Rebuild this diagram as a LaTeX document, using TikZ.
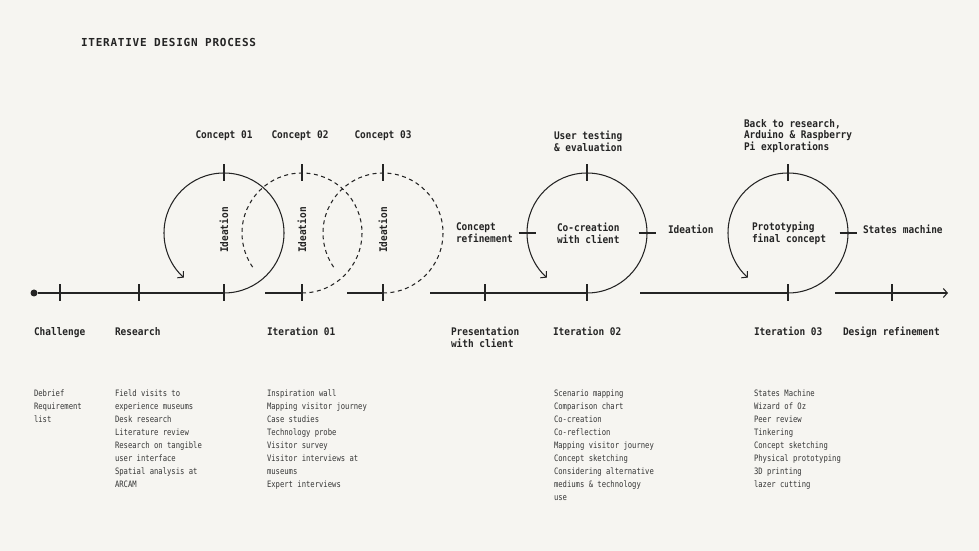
\documentclass[tikz,border=0pt]{standalone}
\usepackage{fontspec}
\usepackage{xcolor}
\usepackage{tikz}
\usetikzlibrary{arrows.meta}
\usetikzlibrary{positioning}
\definecolor{paper}{HTML}{F6F5F1}
\definecolor{ink}{HTML}{242424}
\definecolor{listink}{HTML}{363636}
\newfontfamily\headfont[FakeStretch=0.9]{DejaVu Sans Mono}
\newfontfamily\listfont[FakeStretch=0.82]{DejaVu Sans Mono}
\newfontfamily\titlefont[LetterSpace=7]{DejaVu Sans Mono}
\tikzset{
% Define standard arrow tip
>={Straight Barb[length=4pt, width=9pt]}
}

\begin{document}
\begin{tikzpicture}[x=1pt, y=1pt, draw=ink, line width=1.05pt, inner sep=0, outer sep=0,
    headtxt/.style={text=ink, align=left, font={\headfont\bfseries\fontsize{10.5}{11.7}\selectfont}},
    listtxt/.style={text=listink, align=left, anchor=north west, font={\listfont\fontsize{8.8}{13}\selectfont}},
    loose/.style={dash pattern=on 4pt off 3.5pt}]
  \fill[paper] (0,-258) rectangle (979,293);
  \useasboundingbox (0,-258) rectangle (979,293);

  \node[anchor=base west, text=ink, font={\titlefont\bfseries\fontsize{11}{13}\selectfont}] (title) at (81,246) {ITERATIVE DESIGN PROCESS};

  % loop centres
  \coordinate (c1) at (224,60);
  \coordinate (c2) at (302,60);
  \coordinate (c3) at (383,60);
  \coordinate (c4) at (587,60);
  \coordinate (c5) at (788,60);
  \coordinate (c1b) at ([yshift=-60pt]c1);
  \coordinate (c2b) at ([yshift=-60pt]c2);
  \coordinate (c3b) at ([yshift=-60pt]c3);
  \coordinate (c4b) at ([yshift=-60pt]c4);
  \coordinate (c5b) at ([yshift=-60pt]c5);
  \coordinate (c1t) at ([yshift=60pt]c1);
  \coordinate (c2t) at ([yshift=60pt]c2);
  \coordinate (c3t) at ([yshift=60pt]c3);
  \coordinate (c4t) at ([yshift=60pt]c4);
  \coordinate (c5t) at ([yshift=60pt]c5);

  % time line
  \node[circle, fill=ink, minimum size=7pt] (start) at (34,0) {};
  \coordinate (t1) at (60,0);
  \coordinate (t2) at (139,0);
  \draw (start) -- (c1b);
  \coordinate (s2) at (265,0);
  \draw (s2) -- (c2b);
  \coordinate (s3) at (347,0);
  \draw (s3) -- (c3b);
  \coordinate (s4) at (430,0);
  \coordinate (t3) at (485,0);
  \draw (s4) -- (c4b);
  \coordinate (s5) at (640,0);
  \draw (s5) -- (c5b);
  \coordinate (s6) at (835,0);
  \coordinate (t4) at (892,0);
  \coordinate (finish) at (948,0);
  \draw[->] (s6) -- (finish);

  % loops
  \draw[->] (c1b) arc[start angle=-90, end angle=228, radius=60pt];
  \draw[loose] (c2b) arc[start angle=-90, end angle=217, radius=60pt];
  \draw[loose] (c3b) arc[start angle=-90, end angle=217, radius=60pt];
  \draw[->] (c4b) arc[start angle=-90, end angle=228, radius=60pt];
  \draw[->] (c5b) arc[start angle=-90, end angle=228, radius=60pt];

  % ticks
  \draw ([yshift=8.5pt]t1) -- ([yshift=-8.5pt]t1);
  \draw ([yshift=8.5pt]t2) -- ([yshift=-8.5pt]t2);
  \draw ([yshift=8.5pt]t3) -- ([yshift=-8.5pt]t3);
  \draw ([yshift=8.5pt]t4) -- ([yshift=-8.5pt]t4);
  \draw ([yshift=8.5pt]c1b) -- ([yshift=-8.5pt]c1b);
  \draw ([yshift=8.5pt]c2b) -- ([yshift=-8.5pt]c2b);
  \draw ([yshift=8.5pt]c3b) -- ([yshift=-8.5pt]c3b);
  \draw ([yshift=8.5pt]c4b) -- ([yshift=-8.5pt]c4b);
  \draw ([yshift=8.5pt]c5b) -- ([yshift=-8.5pt]c5b);
  \draw ([yshift=8.5pt]c1t) -- ([yshift=-8.5pt]c1t);
  \draw ([yshift=8.5pt]c2t) -- ([yshift=-8.5pt]c2t);
  \draw ([yshift=8.5pt]c3t) -- ([yshift=-8.5pt]c3t);
  \draw ([yshift=8.5pt]c4t) -- ([yshift=-8.5pt]c4t);
  \draw ([yshift=8.5pt]c5t) -- ([yshift=-8.5pt]c5t);
  \coordinate (c4l) at ([xshift=-60pt]c4);
  \coordinate (c4r) at ([xshift=60pt]c4);
  \coordinate (c5r) at ([xshift=60pt]c5);
  \draw ([xshift=-8.5pt]c4l) -- ([xshift=8.5pt]c4l);
  \draw ([xshift=-8.5pt]c4r) -- ([xshift=8.5pt]c4r);
  \draw ([xshift=-8.5pt]c5r) -- ([xshift=8.5pt]c5r);

  % labels above the line
  \node[headtxt, anchor=base] (concept1) at (224,154) {Concept 01};
  \node[headtxt, anchor=base] (concept2) at (300,154) {Concept 02};
  \node[headtxt, anchor=base] (concept3) at (383,154) {Concept 03};
  \node[headtxt, rotate=90] (idea1) at ([yshift=3pt]c1) {Ideation};
  \node[headtxt, rotate=90] (idea2) at ([yshift=3pt]c2) {Ideation};
  \node[headtxt, rotate=90] (idea3) at ([yshift=3pt]c3) {Ideation};
  \node[headtxt, anchor=west] (refine) at (456,60) {Concept\\refinement};
  \node[headtxt, anchor=west] (testing) at (554,151.5) {User testing\\\& evaluation};
  \node[headtxt, anchor=west] (cocreate) at (557,60) {Co-creation\\with client};
  \node[headtxt, anchor=base west] (idea4) at (668,59) {Ideation};
  \node[headtxt, anchor=west] (back) at (744,157) {Back to research,\\Arduino \& Raspberry\\Pi explorations};
  \node[headtxt, anchor=west] (proto) at (752,60) {Prototyping\\final concept};
  \node[headtxt, anchor=base west] (states) at (863,59) {States machine};

  % labels below the line
  \node[headtxt, anchor=base west] (challenge) at (34,-42) {Challenge};
  \node[headtxt, anchor=base west] (research) at (115,-42) {Research};
  \node[headtxt, anchor=base west] (iter1) at (267,-42) {Iteration 01};
  \node[headtxt, anchor=west] (present) at (451,-44.5) {Presentation\\with client};
  \node[headtxt, anchor=base west] (iter2) at (553,-42) {Iteration 02};
  \node[headtxt, anchor=base west] (iter3) at (754,-42) {Iteration 03};
  \node[headtxt, anchor=base west] (design) at (843,-42) {Design refinement};

  % activity lists
  \node[listtxt] (challengelist) at (34,-97) {Debrief\\Requirement\\list};
  \node[listtxt] (researchlist) at (115,-97) {Field visits to\\experience museums\\Desk research\\Literature review\\Research on tangible\\user interface\\Spatial analysis at\\ARCAM};
  \node[listtxt] (iter1list) at (267,-97) {Inspiration wall\\Mapping visitor journey\\Case studies\\Technology probe\\Visitor survey\\Visitor interviews at\\museums\\Expert interviews};
  \node[listtxt] (iter2list) at (554,-97) {Scenario mapping\\Comparison chart\\Co-creation\\Co-reflection\\Mapping visitor journey\\Concept sketching\\Considering alternative\\mediums \& technology\\use};
  \node[listtxt] (iter3list) at (754,-97) {States Machine\\Wizard of Oz\\Peer review\\Tinkering\\Concept sketching\\Physical prototyping\\3D printing\\lazer cutting};
\end{tikzpicture}
\end{document}
